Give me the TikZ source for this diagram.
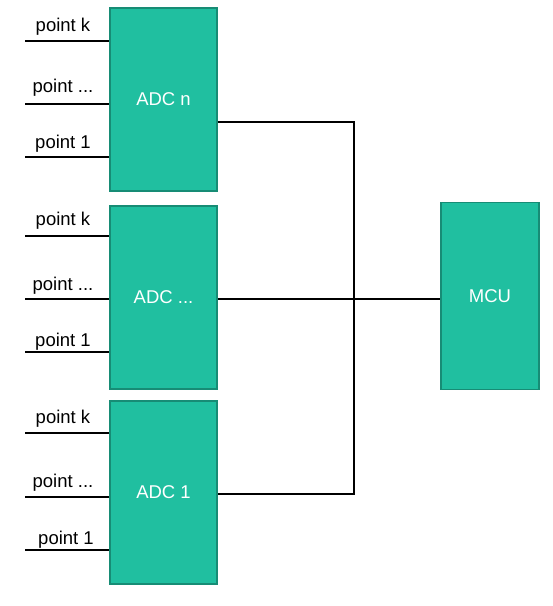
\documentclass[tikz,border=0pt]{standalone}
\usepackage{fontspec}
\setmainfont{Liberation Sans}
\usetikzlibrary{positioning}
\definecolor{boxfill}{HTML}{20BFA0}
\definecolor{boxline}{HTML}{178C75}

\begin{document}
\begin{tikzpicture}[x=1pt, y=-1pt,
    block/.style={draw=boxline, fill=boxfill, line width=1.1pt, text=white,
        font=\fontsize{18.5}{22}\selectfont, inner sep=0pt},
    adcbox/.style={block, minimum width=107pt, minimum height=183pt},
    wire/.style={draw=black, line width=1.3pt},
    pin/.style={font=\fontsize{18.5}{22}\selectfont, anchor=base, inner sep=0pt}]
        \useasboundingbox (0,0) rectangle (553,606);

        \node[adcbox] (adcn) at (163.5,99.5) {ADC n};
        \node[adcbox] (adcm) at (163.5,297.5) {ADC ...};
        \node[adcbox] (adc1) at (163.5,492.5) {ADC 1};
        \node[block, minimum width=98pt, minimum height=187pt] (mcu) at (490,296) {MCU};

        % inputs of ADC n
        \coordinate (nk) at (25,41);
        \coordinate (nm) at (25,104);
        \coordinate (n1) at (25,157);
        \draw[wire] (nk) -- (adcn.west |- nk);
        \draw[wire] (nm) -- (adcn.west |- nm);
        \draw[wire] (n1) -- (adcn.west |- n1);
        \node[pin] (lnk) at (63,31) {point k};
        \node[pin] (lnm) at (63,92) {point ...};
        \node[pin] (ln1) at (63,148) {point 1};

        % inputs of ADC ...
        \coordinate (mk) at (25,236);
        \coordinate (mm) at (25,299);
        \coordinate (m1) at (25,352);
        \draw[wire] (mk) -- (adcm.west |- mk);
        \draw[wire] (mm) -- (adcm.west |- mm);
        \draw[wire] (m1) -- (adcm.west |- m1);
        \node[pin] (lmk) at (63,225) {point k};
        \node[pin] (lmm) at (63,290) {point ...};
        \node[pin] (lm1) at (63,346) {point 1};

        % inputs of ADC 1
        \coordinate (ak) at (25,433);
        \coordinate (am) at (25,497);
        \coordinate (a1) at (25,550);
        \draw[wire] (ak) -- (adc1.west |- ak);
        \draw[wire] (am) -- (adc1.west |- am);
        \draw[wire] (a1) -- (adc1.west |- a1);
        \node[pin] (lak) at (63,423) {point k};
        \node[pin] (lam) at (63,487) {point ...};
        \node[pin] (la1) at (66,544) {point 1};

        % bus to the MCU
        \coordinate (bustop) at (354,122);
        \coordinate (busmid) at (354,299);
        \coordinate (busbot) at (354,494);
        \draw[wire] (adcn.east |- bustop) -- (bustop) -- (busbot) -- (adc1.east |- busbot);
        \draw[wire] (adcm.east |- busmid) -- (mcu.west |- busmid);
    \end{tikzpicture}
\end{document}
